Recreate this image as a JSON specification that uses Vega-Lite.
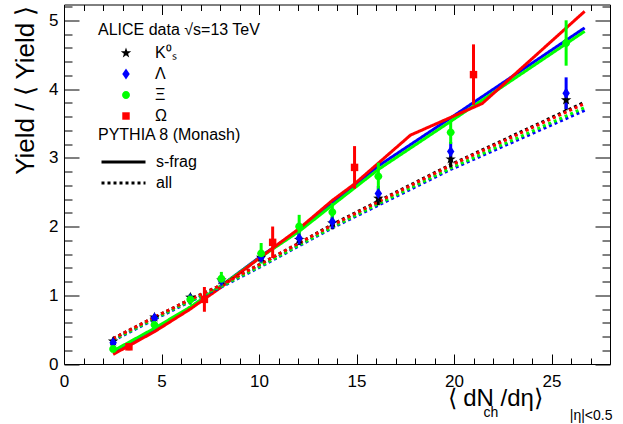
{
  "$schema": "https://vega.github.io/schema/vega-lite/v6.json",
  "width": 546,
  "height": 359.5,
  "autosize": {"type": "none"},
  "padding": {"left": 64, "top": 4.5, "right": 13, "bottom": 60},
  "background": "white",
  "datasets": {
    "pts": [
      {"species": "K⁰ₛ", "x": 2.52, "y": 0.33, "lo": 0.29, "hi": 0.37},
      {"species": "K⁰ₛ", "x": 4.64, "y": 0.68, "lo": 0.64, "hi": 0.72},
      {"species": "K⁰ₛ", "x": 6.48, "y": 0.97, "lo": 0.92, "hi": 1.02},
      {"species": "K⁰ₛ", "x": 8.07, "y": 1.22, "lo": 1.16, "hi": 1.28},
      {"species": "K⁰ₛ", "x": 10.11, "y": 1.55, "lo": 1.48, "hi": 1.62},
      {"species": "K⁰ₛ", "x": 12.06, "y": 1.81, "lo": 1.73, "hi": 1.89},
      {"species": "K⁰ₛ", "x": 13.76, "y": 2.05, "lo": 1.96, "hi": 2.14},
      {"species": "K⁰ₛ", "x": 16.12, "y": 2.41, "lo": 2.31, "hi": 2.51},
      {"species": "K⁰ₛ", "x": 19.83, "y": 2.98, "lo": 2.86, "hi": 3.1},
      {"species": "K⁰ₛ", "x": 25.75, "y": 3.84, "lo": 3.69, "hi": 3.99},
      {"species": "Λ", "x": 2.52, "y": 0.31, "lo": 0.27, "hi": 0.35},
      {"species": "Λ", "x": 4.64, "y": 0.67, "lo": 0.62, "hi": 0.72},
      {"species": "Λ", "x": 6.48, "y": 0.95, "lo": 0.89, "hi": 1.01},
      {"species": "Λ", "x": 8.07, "y": 1.21, "lo": 1.14, "hi": 1.28},
      {"species": "Λ", "x": 10.11, "y": 1.55, "lo": 1.47, "hi": 1.63},
      {"species": "Λ", "x": 12.06, "y": 1.83, "lo": 1.74, "hi": 1.92},
      {"species": "Λ", "x": 13.76, "y": 2.07, "lo": 1.97, "hi": 2.17},
      {"species": "Λ", "x": 16.12, "y": 2.48, "lo": 2.37, "hi": 2.59},
      {"species": "Λ", "x": 19.83, "y": 3.09, "lo": 2.95, "hi": 3.23},
      {"species": "Λ", "x": 25.75, "y": 3.94, "lo": 3.71, "hi": 4.17},
      {"species": "Ξ", "x": 2.52, "y": 0.22, "lo": 0.17, "hi": 0.27},
      {"species": "Ξ", "x": 4.64, "y": 0.57, "lo": 0.51, "hi": 0.63},
      {"species": "Ξ", "x": 6.48, "y": 0.94, "lo": 0.86, "hi": 1.02},
      {"species": "Ξ", "x": 8.07, "y": 1.24, "lo": 1.14, "hi": 1.34},
      {"species": "Ξ", "x": 10.11, "y": 1.61, "lo": 1.46, "hi": 1.76},
      {"species": "Ξ", "x": 12.06, "y": 2.0, "lo": 1.83, "hi": 2.17},
      {"species": "Ξ", "x": 13.76, "y": 2.21, "lo": 2.08, "hi": 2.34},
      {"species": "Ξ", "x": 16.12, "y": 2.73, "lo": 2.53, "hi": 2.93},
      {"species": "Ξ", "x": 19.83, "y": 3.37, "lo": 3.2, "hi": 3.54},
      {"species": "Ξ", "x": 25.75, "y": 4.67, "lo": 4.34, "hi": 5.0},
      {"species": "Ω", "x": 3.33, "y": 0.25, "lo": 0.2, "hi": 0.3},
      {"species": "Ω", "x": 7.2, "y": 0.94, "lo": 0.76, "hi": 1.12},
      {"species": "Ω", "x": 10.7, "y": 1.77, "lo": 1.54, "hi": 2.0},
      {"species": "Ω", "x": 14.9, "y": 2.86, "lo": 2.55, "hi": 3.17},
      {"species": "Ω", "x": 21.0, "y": 4.21, "lo": 3.77, "hi": 4.65}
    ],
    "sim": [
      {"species": "Λ", "model": "s-frag", "x": 2.52, "y": 0.17},
      {"species": "Λ", "model": "s-frag", "x": 4.64, "y": 0.5},
      {"species": "Λ", "model": "s-frag", "x": 6.48, "y": 0.82},
      {"species": "Λ", "model": "s-frag", "x": 8.07, "y": 1.14},
      {"species": "Λ", "model": "s-frag", "x": 10.11, "y": 1.57},
      {"species": "Λ", "model": "s-frag", "x": 12.06, "y": 1.95},
      {"species": "Λ", "model": "s-frag", "x": 13.76, "y": 2.35},
      {"species": "Λ", "model": "s-frag", "x": 16.12, "y": 2.88},
      {"species": "Λ", "model": "s-frag", "x": 19.83, "y": 3.58},
      {"species": "Λ", "model": "s-frag", "x": 26.7, "y": 4.89},
      {"species": "Ξ", "model": "s-frag", "x": 2.52, "y": 0.19},
      {"species": "Ξ", "model": "s-frag", "x": 4.64, "y": 0.52},
      {"species": "Ξ", "model": "s-frag", "x": 6.48, "y": 0.83},
      {"species": "Ξ", "model": "s-frag", "x": 8.07, "y": 1.14},
      {"species": "Ξ", "model": "s-frag", "x": 10.11, "y": 1.56},
      {"species": "Ξ", "model": "s-frag", "x": 12.06, "y": 1.93},
      {"species": "Ξ", "model": "s-frag", "x": 13.76, "y": 2.31},
      {"species": "Ξ", "model": "s-frag", "x": 16.12, "y": 2.83},
      {"species": "Ξ", "model": "s-frag", "x": 19.83, "y": 3.53},
      {"species": "Ξ", "model": "s-frag", "x": 26.7, "y": 4.84},
      {"species": "Ω", "model": "s-frag", "x": 2.52, "y": 0.14},
      {"species": "Ω", "model": "s-frag", "x": 4.64, "y": 0.47},
      {"species": "Ω", "model": "s-frag", "x": 6.48, "y": 0.8},
      {"species": "Ω", "model": "s-frag", "x": 8.07, "y": 1.12},
      {"species": "Ω", "model": "s-frag", "x": 10.11, "y": 1.56},
      {"species": "Ω", "model": "s-frag", "x": 12.06, "y": 1.97},
      {"species": "Ω", "model": "s-frag", "x": 13.76, "y": 2.38},
      {"species": "Ω", "model": "s-frag", "x": 14.9, "y": 2.62},
      {"species": "Ω", "model": "s-frag", "x": 17.77, "y": 3.33},
      {"species": "Ω", "model": "s-frag", "x": 21.45, "y": 3.79},
      {"species": "Ω", "model": "s-frag", "x": 26.7, "y": 5.13},
      {"species": "K⁰ₛ", "model": "all", "x": 2.52, "y": 0.37},
      {"species": "K⁰ₛ", "model": "all", "x": 4.64, "y": 0.68},
      {"species": "K⁰ₛ", "model": "all", "x": 6.48, "y": 0.94},
      {"species": "K⁰ₛ", "model": "all", "x": 8.07, "y": 1.15},
      {"species": "K⁰ₛ", "model": "all", "x": 10.11, "y": 1.46},
      {"species": "K⁰ₛ", "model": "all", "x": 12.06, "y": 1.76},
      {"species": "K⁰ₛ", "model": "all", "x": 13.76, "y": 2.03},
      {"species": "K⁰ₛ", "model": "all", "x": 16.12, "y": 2.37},
      {"species": "K⁰ₛ", "model": "all", "x": 19.83, "y": 2.9},
      {"species": "K⁰ₛ", "model": "all", "x": 26.7, "y": 3.81},
      {"species": "Λ", "model": "all", "x": 2.52, "y": 0.34},
      {"species": "Λ", "model": "all", "x": 4.64, "y": 0.65},
      {"species": "Λ", "model": "all", "x": 6.48, "y": 0.91},
      {"species": "Λ", "model": "all", "x": 8.07, "y": 1.12},
      {"species": "Λ", "model": "all", "x": 10.11, "y": 1.42},
      {"species": "Λ", "model": "all", "x": 12.06, "y": 1.72},
      {"species": "Λ", "model": "all", "x": 13.76, "y": 1.98},
      {"species": "Λ", "model": "all", "x": 16.12, "y": 2.31},
      {"species": "Λ", "model": "all", "x": 19.83, "y": 2.83},
      {"species": "Λ", "model": "all", "x": 26.7, "y": 3.69},
      {"species": "Ξ", "model": "all", "x": 2.52, "y": 0.35},
      {"species": "Ξ", "model": "all", "x": 4.64, "y": 0.66},
      {"species": "Ξ", "model": "all", "x": 6.48, "y": 0.92},
      {"species": "Ξ", "model": "all", "x": 8.07, "y": 1.13},
      {"species": "Ξ", "model": "all", "x": 10.11, "y": 1.43},
      {"species": "Ξ", "model": "all", "x": 12.06, "y": 1.73},
      {"species": "Ξ", "model": "all", "x": 13.76, "y": 1.99},
      {"species": "Ξ", "model": "all", "x": 16.12, "y": 2.33},
      {"species": "Ξ", "model": "all", "x": 19.83, "y": 2.85},
      {"species": "Ξ", "model": "all", "x": 26.7, "y": 3.73},
      {"species": "Ω", "model": "all", "x": 2.52, "y": 0.37},
      {"species": "Ω", "model": "all", "x": 4.64, "y": 0.68},
      {"species": "Ω", "model": "all", "x": 6.48, "y": 0.94},
      {"species": "Ω", "model": "all", "x": 8.07, "y": 1.15},
      {"species": "Ω", "model": "all", "x": 10.11, "y": 1.46},
      {"species": "Ω", "model": "all", "x": 12.06, "y": 1.76},
      {"species": "Ω", "model": "all", "x": 13.76, "y": 2.02},
      {"species": "Ω", "model": "all", "x": 16.12, "y": 2.36},
      {"species": "Ω", "model": "all", "x": 19.83, "y": 2.89},
      {"species": "Ω", "model": "all", "x": 26.7, "y": 3.79}
    ]
  },
  "layer": [
    {
      "data": {"name": "sim"},
      "transform": [{"filter": "datum.model === 's-frag'"}],
      "mark": {"type": "line", "strokeWidth": 3},
      "encoding": {
        "x": {
          "field": "x", "type": "quantitative",
          "scale": {"domain": [0, 28], "nice": false, "zero": false},
          "axis": {
            "orient": "bottom",
            "values": [0,1,2,3,4,5,6,7,8,9,10,11,12,13,14,15,16,17,18,19,20,21,22,23,24,25,26,27,28],
            "tickSize": {"condition": {"test": "datum.value % 5 === 0", "value": -10}, "value": -6},
            "labelExpr": "datum.value % 5 === 0 ? datum.label : ''",
            "labelPadding": 19,
            "title": "⟨ dN  /dη⟩",
            "titleFontSize": 24,
            "titleX": 383,
            "titleY": 41,
            "titleAlign": "left",
            "titleBaseline": "alphabetic",
            "titleAngle": 0
          }
        },
        "y": {
          "field": "y", "type": "quantitative",
          "scale": {"domain": [0, 5.23], "nice": false, "zero": false},
          "axis": {
            "orient": "left",
            "values": [0,0.2,0.4,0.6,0.8,1,1.2,1.4,1.6,1.8,2,2.2,2.4,2.6,2.8,3,3.2,3.4,3.6,3.8,4,4.2,4.4,4.6,4.8,5,5.2],
            "tickSize": {"condition": {"test": "abs(datum.value - round(datum.value)) < 0.01", "value": -15}, "value": -8},
            "labelExpr": "abs(datum.value - round(datum.value)) < 0.01 ? format(datum.value, 'd') : ''",
            "labelPadding": 21,
            "title": "Yield / ⟨ Yield ⟩",
            "titleFontSize": 26,
            "titleX": -31,
            "titleY": 0.5,
            "titleAngle": 270,
            "titleAlign": "right",
            "titleBaseline": "alphabetic"
          }
        },
        "color": {
          "field": "species", "type": "nominal",
          "scale": {"domain": ["K⁰ₛ", "Λ", "Ξ", "Ω"], "range": ["#000000", "#0000ff", "#00ff00", "#ff0000"]},
          "legend": null
        },
        "strokeDash": {
          "field": "model", "type": "nominal",
          "scale": {"domain": ["s-frag", "all"], "range": [[1, 0], [3, 3]]},
          "legend": {
            "title": "PYTHIA 8 (Monash)",
            "orient": "none",
            "legendX": 34,
            "legendY": 122,
            "symbolType": "M-2,0H2",
            "symbolSize": 484,
            "symbolStrokeWidth": 3,
            "symbolStrokeColor": "black",
            "symbolOffset": 13,
            "labelOffset": 20,
            "rowPadding": 0,
            "titlePadding": 7,
            "titleLimit": 400,
            "encode": {"symbols": {"update": {"stroke": {"value": "black"}}}}
          }
        }
      }
    },
    {
      "data": {"name": "sim"},
      "transform": [{"filter": "datum.model === 'all'"}],
      "mark": {"type": "line", "strokeWidth": 3},
      "encoding": {
        "x": {
          "field": "x", "type": "quantitative",
          "scale": {"domain": [0, 28], "nice": false, "zero": false},
          "axis": {
            "orient": "top",
            "values": [0,1,2,3,4,5,6,7,8,9,10,11,12,13,14,15,16,17,18,19,20,21,22,23,24,25,26,27,28],
            "tickSize": {"condition": {"test": "datum.value % 5 === 0", "value": -10}, "value": -6},
            "labels": false,
            "title": "ch",
            "titleFontSize": 14,
            "titleX": 419,
            "titleY": 411.5,
            "titleAlign": "left",
            "titleBaseline": "alphabetic",
            "titleAngle": 0
          }
        },
        "y": {
          "field": "y", "type": "quantitative",
          "scale": {"domain": [0, 5.23], "nice": false, "zero": false},
          "axis": {
            "orient": "right",
            "values": [0,0.2,0.4,0.6,0.8,1,1.2,1.4,1.6,1.8,2,2.2,2.4,2.6,2.8,3,3.2,3.4,3.6,3.8,4,4.2,4.4,4.6,4.8,5,5.2],
            "tickSize": {"condition": {"test": "abs(datum.value - round(datum.value)) < 0.01", "value": -15}, "value": -8},
            "labels": false,
            "title": "|η|<0.5",
            "titleFontSize": 14,
            "titleX": 2,
            "titleY": 414.5,
            "titleAngle": 0,
            "titleAlign": "right",
            "titleBaseline": "alphabetic"
          }
        },
        "color": {"field": "species", "type": "nominal", "legend": null},
        "strokeDash": {"field": "model", "type": "nominal"}
      }
    },
    {
      "data": {"name": "pts"},
      "mark": {"type": "rule", "strokeWidth": 3},
      "encoding": {
        "x": {"field": "x", "type": "quantitative", "axis": null},
        "y": {"field": "lo", "type": "quantitative", "axis": null},
        "y2": {"field": "hi"},
        "color": {"field": "species", "type": "nominal", "legend": null}
      }
    },
    {
      "data": {"name": "pts"},
      "mark": {"type": "point", "filled": true, "size": 120, "opacity": 1, "strokeWidth": 0},
      "encoding": {
        "x": {"field": "x", "type": "quantitative", "axis": null},
        "y": {"field": "y", "type": "quantitative", "axis": null},
        "color": {
          "field": "species", "type": "nominal",
          "legend": {
            "title": "ALICE data √s=13 TeV",
            "orient": "none",
            "legendX": 34,
            "legendY": 17.5,
            "symbolOffset": 20,
            "labelOffset": 21,
            "rowPadding": 5,
            "titlePadding": 7,
            "symbolSize": 120,
            "symbolStrokeWidth": 0,
            "titleLimit": 400,
            "encode": {
              "labels": {"update": {"font": {"signal": "datum.value === 'K⁰ₛ' ? 'Liberation Sans' : 'Liberation Serif'"}}}
            }
          }
        },
        "shape": {
          "field": "species", "type": "nominal",
          "scale": {
            "domain": ["K⁰ₛ", "Λ", "Ξ", "Ω"],
            "range": [
              "M0,-1L0.235,-0.324L0.951,-0.309L0.38,0.124L0.588,0.809L0,0.4L-0.588,0.809L-0.38,0.124L-0.951,-0.309L-0.235,-0.324Z",
              "M0,-1L0.68,0L0,1L-0.68,0Z",
              "M0.72,0A0.72,0.72,0,1,1,-0.72,0A0.72,0.72,0,1,1,0.72,0Z",
              "M-0.68,-0.68H0.68V0.68H-0.68Z"
            ]
          },
          "legend": {
            "title": "ALICE data √s=13 TeV",
            "orient": "none",
            "legendX": 34,
            "legendY": 17.5,
            "symbolOffset": 20,
            "labelOffset": 21,
            "rowPadding": 5,
            "titlePadding": 7,
            "symbolSize": 120,
            "symbolStrokeWidth": 0,
            "titleLimit": 400
          }
        }
      }
    }
  ],
  "resolve": {
    "axis": {"x": "independent", "y": "independent"},
    "legend": {"color": "independent", "shape": "independent"}
  },
  "config": {
    "view": {"stroke": "black", "strokeWidth": 1},
    "font": "Liberation Sans",
    "axis": {
      "domain": false,
      "grid": false,
      "tickColor": "black",
      "tickWidth": 1,
      "labelColor": "black",
      "labelFont": "Liberation Sans",
      "labelFontSize": 17,
      "titleColor": "black",
      "titleFont": "Liberation Sans",
      "titleFontWeight": "normal",
      "labelFlush": false,
      "labelOverlap": false
    },
    "legend": {
      "titleFont": "Liberation Sans",
      "titleFontSize": 16,
      "titleFontWeight": "normal",
      "titleColor": "black",
      "labelFont": "Liberation Sans",
      "labelFontSize": 16,
      "labelColor": "black",
      "padding": 0
    }
  }
}
